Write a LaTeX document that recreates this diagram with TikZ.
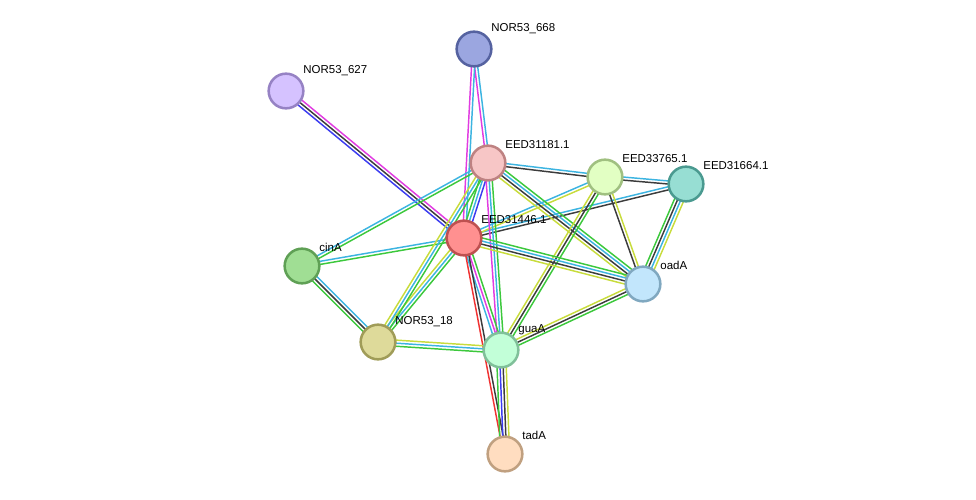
\documentclass[tikz,border=0pt]{standalone}
\usepackage{fontspec}
\setsansfont{Liberation Sans}
\usepackage{tikz}
\usetikzlibrary{calc, backgrounds}

\definecolor{evgreen}{RGB}{60,200,60}
\definecolor{evcyan}{RGB}{60,180,225}
\definecolor{evmag}{RGB}{225,60,225}
\definecolor{evblack}{RGB}{60,60,60}
\definecolor{evyel}{RGB}{200,220,60}
\definecolor{evblue}{RGB}{60,60,240}
\definecolor{evred}{RGB}{240,50,50}

% node fills and rims
\definecolor{f668}{RGB}{155,166,224}\definecolor{d668}{RGB}{85,98,160}
\definecolor{f627}{RGB}{213,194,255}\definecolor{d627}{RGB}{150,130,196}
\definecolor{f181}{RGB}{247,198,198}\definecolor{d181}{RGB}{190,130,130}
\definecolor{f765}{RGB}{226,255,195}\definecolor{d765}{RGB}{160,192,128}
\definecolor{f664}{RGB}{151,222,211}\definecolor{d664}{RGB}{74,154,144}
\definecolor{f446}{RGB}{255,144,144}\definecolor{d446}{RGB}{190,80,80}
\definecolor{fcin}{RGB}{160,222,148}\definecolor{dcin}{RGB}{95,160,85}
\definecolor{foad}{RGB}{194,230,252}\definecolor{doad}{RGB}{128,168,192}
\definecolor{f18}{RGB}{222,218,154}\definecolor{d18}{RGB}{160,156,88}
\definecolor{fgua}{RGB}{194,255,216}\definecolor{dgua}{RGB}{128,192,154}
\definecolor{ftad}{RGB}{255,221,192}\definecolor{dtad}{RGB}{192,160,128}

% multi-line evidence link: from, to, number of lines, colours
\newcommand{\lnk}[4]{%
  \foreach \c [count=\i] in {#4} {
    \pgfmathsetmacro{\off}{(\i-(#3+1)/2)*2.3}
    \draw[evline, \c] ($(#1)!\off pt!90:(#2)$) -- ($(#2)!\off pt!-90:(#1)$);
  }%
}

\begin{document}
\begin{tikzpicture}[
    x=0.75pt, y=-0.75pt,
    prot/.style = {circle, line width=1.9pt, minimum size=26pt, inner sep=0pt},
    lbl/.style = {font=\sffamily\fontsize{8.6}{10}\selectfont, anchor=south west, inner sep=1pt, xshift=2pt},
    evline/.style = {line width=1.1pt}
]
\useasboundingbox (0,0) rectangle (976,500);

\node (n668) [prot, draw=d668, fill=f668, label={[lbl]45:NOR53\_668}] at (474,49) {};
\node (n627) [prot, draw=d627, fill=f627, label={[lbl]45:NOR53\_627}] at (286,91) {};
\node (e181) [prot, draw=d181, fill=f181, label={[lbl]45:EED31181.1}] at (488,163) {};
\node (e765) [prot, draw=d765, fill=f765, label={[lbl]45:EED33765.1}] at (605,177) {};
\node (e664) [prot, draw=d664, fill=f664, label={[lbl]45:EED31664.1}] at (686,184) {};
\node (e446) [prot, draw=d446, fill=f446, label={[lbl]45:EED31446.1}] at (464,238) {};
\node (cina) [prot, draw=dcin, fill=fcin, label={[lbl]45:cinA}] at (302,266) {};
\node (oada) [prot, draw=doad, fill=foad, label={[lbl]45:oadA}] at (643,284) {};
\node (n18) [prot, draw=d18, fill=f18, label={[lbl]45:NOR53\_18}] at (378,342) {};
\node (guaa) [prot, draw=dgua, fill=fgua, label={[lbl]45:guaA}] at (501,350) {};
\node (tada) [prot, draw=dtad, fill=ftad, label={[lbl]45:tadA}] at (505,454) {};

\begin{scope}[on background layer]
\lnk{n668}{e181}{2}{evmag, evcyan}
\lnk{n668}{e446}{2}{evmag, evcyan}
\lnk{n627}{e446}{3}{evblue, evblack, evmag}
\lnk{e181}{e765}{2}{evblack, evcyan}
\lnk{e765}{e664}{2}{evblack, evcyan}
\lnk{e446}{e664}{2}{evblack, evcyan}
\lnk{e446}{e765}{2}{evyel, evcyan}
\lnk{e181}{e446}{3}{evgreen, evcyan, evblue}
\lnk{e181}{oada}{4}{evyel, evblack, evcyan, evgreen}
\lnk{e181}{guaa}{3}{evmag, evcyan, evgreen}
\lnk{e765}{guaa}{3}{evyel, evblack, evgreen}
\lnk{e765}{oada}{2}{evblack, evyel}
\lnk{e664}{oada}{4}{evgreen, evblack, evcyan, evyel}
\lnk{e446}{oada}{4}{evyel, evblack, evcyan, evgreen}
\lnk{oada}{guaa}{3}{evyel, evblack, evgreen}
\lnk{e446}{guaa}{3}{evcyan, evmag, evgreen}
\lnk{e446}{tada}{2}{evred, evblack}
\lnk{guaa}{tada}{4}{evgreen, evblue, evblack, evyel}
\lnk{cina}{e446}{2}{evgreen, evcyan}
\lnk{cina}{e181}{2}{evgreen, evcyan}
\lnk{cina}{n18}{3}{evgreen, evblack, evcyan}
\lnk{n18}{e446}{3}{evgreen, evcyan, evyel}
\lnk{n18}{e181}{3}{evgreen, evcyan, evyel}
\lnk{n18}{guaa}{3}{evgreen, evcyan, evyel}
\end{scope}

\end{tikzpicture}
\end{document}
